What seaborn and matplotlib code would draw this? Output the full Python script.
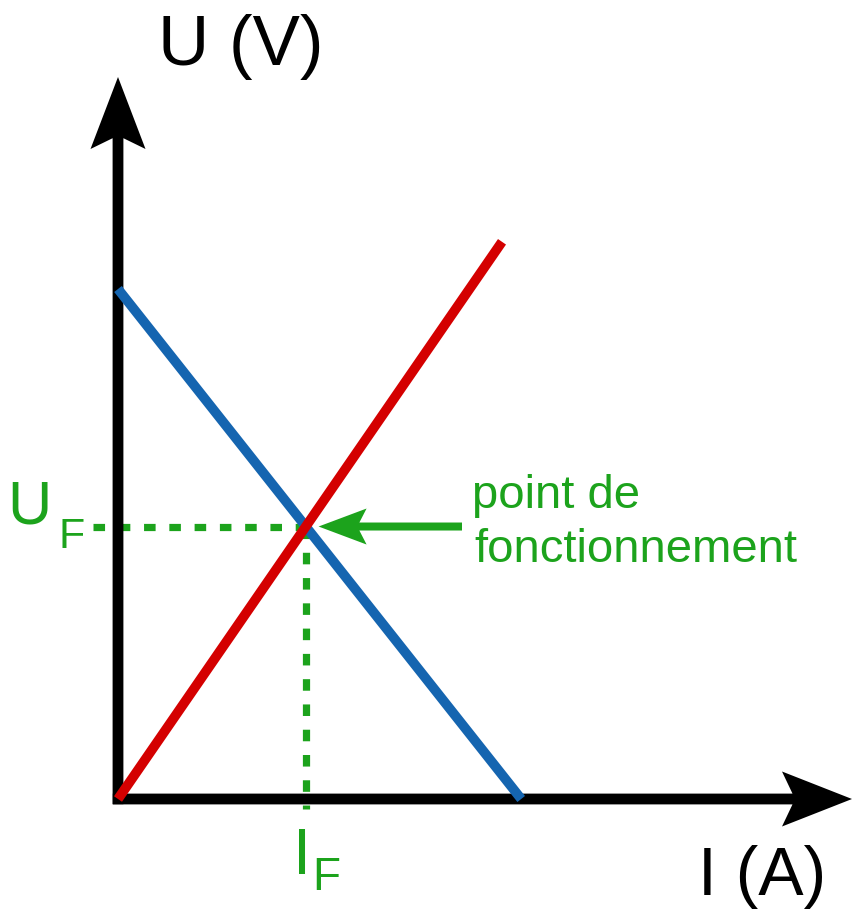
import numpy as np
import pandas as pd
import seaborn as sns
import matplotlib
matplotlib.use("Agg")
import matplotlib.pyplot as plt

# --- data (arbitrary units, 1 unit = 40 px) ---
load_I = [0.0, 9.6]       # red line (charge)
load_U = [0.0, 13.93]
gen_I = [0.0, 10.08]      # blue line (generateur)
gen_U = [12.75, 0.0]

axis_len_I = 18.35
axis_len_U = 18.05

RED = "#d40000"
BLUE = "#1565b0"
GREEN = "#1ca31c"

# operating point = intersection of the two lines
k = load_U[1] / load_I[1]
E = gen_U[0]
r = E / gen_I[1]
I_F = E / (k + r)
U_F = k * I_F

df = pd.DataFrame({
    "I": load_I + gen_I,
    "U": load_U + gen_U,
    "courbe": ["charge"] * 2 + ["generateur"] * 2,
})

sns.set_style("white")
plt.rcParams["font.family"] = ["Liberation Sans", "DejaVu Sans"]

fig = plt.figure(figsize=(8.54, 9.12), dpi=100)
ax = fig.add_axes([0, 0, 1, 1])
ax.set_xlim(-2.95, 18.4)
ax.set_ylim(-2.8, 20.0)
ax.axis("off")

# axes with arrows
ax.arrow(-0.13, 0, axis_len_I + 0.13, 0, width=0.27, head_width=1.375,
         head_length=1.75, overhang=0.15, length_includes_head=True,
         color="black", lw=0, zorder=1)
ax.arrow(0, -0.13, 0, axis_len_U + 0.13, width=0.27, head_width=1.375,
         head_length=1.8, overhang=0.15, length_includes_head=True,
         color="black", lw=0, zorder=1)

# dashed guides
ax.plot([-0.63, I_F], [U_F, U_F], color=GREEN, lw=5.2,
        linestyle=(0, (1.6, 1.9)), zorder=0.5)
ax.plot([I_F, I_F], [U_F, -0.25], color=GREEN, lw=5.2,
        linestyle=(0, (1.6, 1.9)), zorder=1.5)

# characteristic lines
sns.lineplot(data=df, x="I", y="U", hue="courbe",
             hue_order=["generateur", "charge"],
             palette={"charge": RED, "generateur": BLUE},
             estimator=None, sort=False, linewidth=7,
             solid_capstyle="butt", legend=False, ax=ax)

# arrow to the operating point
ax.arrow(8.6, U_F, -(8.6 - (I_F + 0.32)), 0, width=0.2, head_width=0.9,
         head_length=1.2, overhang=0.15, length_includes_head=True,
         color=GREEN, lw=0, zorder=3)

# labels
ax.text(1.0, 18.375, "U (V)", fontsize=51, color="black", ha="left", va="baseline")
ax.text(14.5, -2.375, "I (A)", fontsize=49, color="black", ha="left", va="baseline")

ax.text(-2.78, U_F + 0.1, "U", fontsize=44, color=GREEN, ha="left", va="baseline")
ax.text(-1.5, U_F - 0.5, "F", fontsize=31, color=GREEN, ha="left", va="baseline")

ax.text(I_F - 0.1, -1.85, "I", fontsize=47, color=GREEN, ha="center", va="baseline")
ax.text(I_F + 0.15, -2.25, "F", fontsize=33, color=GREEN, ha="left", va="baseline")

ax.text(8.85, 7.3, "point de", fontsize=34, color=GREEN, ha="left", va="baseline")
ax.text(8.9, 5.95, "fonctionnement", fontsize=34, color=GREEN, ha="left", va="baseline")

fig.savefig("out.png", dpi=100)
